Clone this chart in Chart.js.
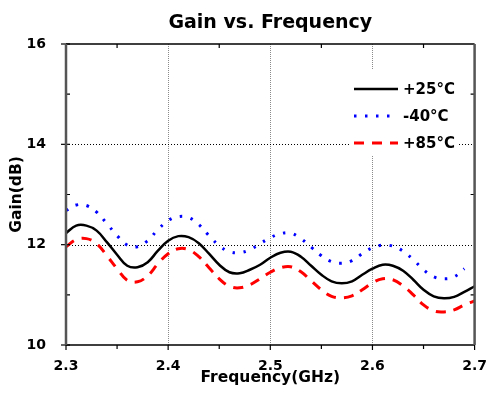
<!DOCTYPE html>
<html>
<head>
<meta charset="utf-8">
<script src="https://cdn.jsdelivr.net/npm/chart.js@4/dist/chart.umd.min.js"></script>
<style>
  html, body { margin: 0; padding: 0; background: #fff; }
  #wrap { width: 492px; height: 399px; position: relative; }
</style>
</head>
<body>
<div id="wrap"><canvas id="gainChart"></canvas></div>
<script>
/* ---------- DATA ---------- */
let freq = [2.30, 2.31, 2.32, 2.33, 2.34, 2.35, 2.36, 2.37, 2.38, 2.39,
            2.40, 2.41, 2.42, 2.43, 2.44, 2.45, 2.46, 2.47, 2.48, 2.49,
            2.50, 2.51, 2.52, 2.53, 2.54, 2.55, 2.56, 2.57, 2.58, 2.59,
            2.60, 2.61, 2.62, 2.63, 2.64, 2.65, 2.66, 2.67, 2.68, 2.69, 2.70];

let gain25 = [12.23, 12.38, 12.38, 12.28, 12.05, 11.80, 11.58, 11.55, 11.65, 11.88,
              12.08, 12.17, 12.15, 12.03, 11.82, 11.60, 11.45, 11.43, 11.50, 11.60,
              11.74, 11.84, 11.86, 11.76, 11.58, 11.40, 11.27, 11.23, 11.27, 11.40,
              11.52, 11.60, 11.58, 11.48, 11.30, 11.10, 10.97, 10.93, 10.96, 11.06, 11.17];

let gainM40 = [12.68, 12.79, 12.78, 12.65, 12.42, 12.18, 11.99, 11.96, 12.08, 12.30,
               12.48, 12.56, 12.54, 12.40, 12.18, 11.98, 11.86, 11.84, 11.90, 12.02,
               12.14, 12.22, 12.23, 12.12, 11.95, 11.78, 11.66, 11.63, 11.68, 11.82,
               11.94, 11.99, 11.97, 11.87, 11.70, 11.50, 11.36, 11.32, 11.36, 11.52, null];

let gain85 = [11.96, 12.10, 12.12, 12.02, 11.78, 11.52, 11.29, 11.26, 11.38, 11.62,
              11.82, 11.92, 11.90, 11.76, 11.54, 11.32, 11.17, 11.14, 11.20, 11.32,
              11.45, 11.54, 11.56, 11.46, 11.28, 11.10, 10.97, 10.94, 10.98, 11.10,
              11.24, 11.32, 11.30, 11.18, 11.00, 10.80, 10.68, 10.66, 10.70, 10.80, 10.88];

let seriesNames = ["+25°C", "-40°C", "+85°C"];
let xTicks = [2.3, 2.4, 2.5, 2.6, 2.7];
let yTicks = [10, 12, 14, 16];

const FONT = "'DejaVu Sans', sans-serif";

function toPoints(values) {
    return freq.map((f, i) => ({ x: f, y: values[i] }));
}

/* ---------- FRAME, GRID, LEGEND, TITLE ---------- */
const decor = {
    id: "decor",
    beforeDatasetsDraw(chart) {
        let ctx = chart.ctx;
        let a = chart.chartArea;
        let xs = chart.scales.x, ys = chart.scales.y;
        ctx.save();
        ctx.lineWidth = 1;
        // vertical gray dotted grid
        ctx.strokeStyle = "#8a8a8a";
        ctx.setLineDash([1, 1]);
        [2.4, 2.5, 2.6].forEach(v => {
            let px = Math.round(xs.getPixelForValue(v)) + 0.5;
            ctx.beginPath(); ctx.moveTo(px, a.top); ctx.lineTo(px, a.bottom); ctx.stroke();
        });
        // horizontal black dotted grid
        ctx.strokeStyle = "#000";
        ctx.setLineDash([1, 2]);
        [12, 14].forEach(v => {
            let py = Math.round(ys.getPixelForValue(v)) + 0.5;
            ctx.beginPath(); ctx.moveTo(a.left, py); ctx.lineTo(a.right, py); ctx.stroke();
        });
        ctx.restore();
    },
    afterDatasetsDraw(chart) {
        let ctx = chart.ctx;
        let a = chart.chartArea;
        let xs = chart.scales.x, ys = chart.scales.y;
        ctx.save();
        ctx.setLineDash([]);

        // top & bottom axis lines
        ctx.strokeStyle = "#000";
        ctx.lineWidth = 1.5;
        ctx.beginPath();
        ctx.moveTo(a.left, a.top); ctx.lineTo(a.right, a.top);
        ctx.moveTo(a.left, a.bottom); ctx.lineTo(a.right, a.bottom);
        ctx.stroke();

        // x ticks
        ctx.lineWidth = 1.2;
        xTicks.forEach(v => {
            let px = xs.getPixelForValue(v);
            ctx.beginPath(); ctx.moveTo(px, a.bottom); ctx.lineTo(px, a.bottom + 5); ctx.stroke();
        });
        [2.35, 2.45, 2.55, 2.65].forEach(v => {
            let px = xs.getPixelForValue(v);
            ctx.beginPath();
            ctx.moveTo(px, a.bottom); ctx.lineTo(px, a.bottom + 4);
            ctx.moveTo(px, a.top); ctx.lineTo(px, a.top + 4);
            ctx.stroke();
        });

        // y ticks
        yTicks.forEach(v => {
            let py = ys.getPixelForValue(v);
            ctx.beginPath(); ctx.moveTo(a.left - 5, py); ctx.lineTo(a.left + 4, py); ctx.stroke();
        });
        [11, 13, 15].forEach(v => {
            let py = ys.getPixelForValue(v);
            ctx.beginPath();
            ctx.moveTo(a.left, py); ctx.lineTo(a.left + 4, py);
            ctx.moveTo(a.right, py); ctx.lineTo(a.right - 4, py);
            ctx.stroke();
        });

        // left & right gray borders
        ctx.strokeStyle = "#555";
        ctx.lineWidth = 2.5;
        ctx.beginPath();
        ctx.moveTo(a.left, a.top); ctx.lineTo(a.left, a.bottom);
        ctx.moveTo(a.right, a.top); ctx.lineTo(a.right, a.bottom);
        ctx.stroke();

        // legend
        ctx.fillStyle = "#fff";
        ctx.fillRect(350, 69, 109, 86);
        let rows = [89, 116, 143];
        chart.data.datasets.forEach((ds, i) => {
            ctx.strokeStyle = ds.borderColor;
            ctx.lineWidth = ds.borderWidth;
            ctx.setLineDash(ds.borderDash || []);
            ctx.beginPath(); ctx.moveTo(354, rows[i]); ctx.lineTo(398, rows[i]); ctx.stroke();
            ctx.setLineDash([]);
            ctx.fillStyle = "#000";
            ctx.font = "bold 15px " + FONT;
            ctx.textBaseline = "middle";
            ctx.textAlign = "left";
            ctx.fillText(ds.label, 403, rows[i] + 1);
        });

        // title
        ctx.fillStyle = "#000";
        ctx.font = "bold 19px " + FONT;
        ctx.textAlign = "center";
        ctx.textBaseline = "alphabetic";
        ctx.fillText("Gain vs. Frequency", (a.left + a.right) / 2, 28);
        ctx.restore();
    }
};

/* ---------- CHART ---------- */
let ctx = document.getElementById("gainChart").getContext("2d");

new Chart(ctx, {
    type: "line",
    data: {
        datasets: [
            {
                label: seriesNames[0],
                data: toPoints(gain25),
                borderColor: "#000000",
                borderWidth: 2.5
            },
            {
                label: seriesNames[1],
                data: toPoints(gainM40),
                borderColor: "#0000ff",
                borderWidth: 3,
                borderDash: [2.5, 8.5]
            },
            {
                label: seriesNames[2],
                data: toPoints(gain85),
                borderColor: "#ff0000",
                borderWidth: 3,
                borderDash: [10, 8]
            }
        ]
    },
    options: {
        responsive: true,
        maintainAspectRatio: false,
        animation: false,
        devicePixelRatio: 1,
        layout: { padding: { left: 0, right: 14, top: 44, bottom: 0 } },
        elements: {
            point: { radius: 0 },
            line: { tension: 0.4, fill: false }
        },
        plugins: {
            legend: { display: false },
            title: { display: false },
            tooltip: { enabled: false }
        },
        scales: {
            x: {
                type: "linear",
                min: 2.3,
                max: 2.7,
                afterBuildTicks: s => { s.ticks = xTicks.map(v => ({ value: v })); },
                afterFit: s => { s.height = 54; },
                grid: { display: false },
                border: { display: false },
                ticks: {
                    color: "#000",
                    padding: 5,
                    maxRotation: 0,
                    font: { family: FONT, size: 14, weight: "bold" },
                    callback: v => v.toFixed(1)
                },
                title: {
                    display: true,
                    text: "Frequency(GHz)",
                    color: "#000",
                    font: { family: FONT, size: 15.5, weight: "bold" },
                    padding: { top: 0, bottom: 12 }
                }
            },
            y: {
                min: 10,
                max: 16,
                afterBuildTicks: s => { s.ticks = yTicks.map(v => ({ value: v })); },
                afterFit: s => { s.width = 66; },
                grid: { display: false },
                border: { display: false },
                ticks: {
                    color: "#000",
                    padding: 12,
                    font: { family: FONT, size: 14, weight: "bold" }
                },
                title: {
                    display: true,
                    text: "Gain(dB)",
                    color: "#000",
                    font: { family: FONT, size: 15.5, weight: "bold" },
                    padding: { top: 8, bottom: 0 }
                }
            }
        }
    },
    plugins: [decor]
});
</script>
</body>
</html>
